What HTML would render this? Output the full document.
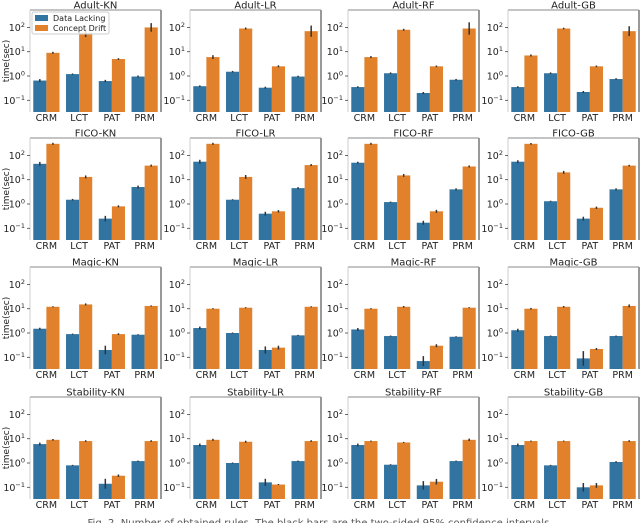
<!DOCTYPE html>
<html><head><meta charset="utf-8">
<style>
html,body{margin:0;padding:0;background:#fff;width:640px;height:523px;overflow:hidden}
svg{display:block}
text{font-family:"DejaVu Sans","Liberation Sans",sans-serif}
</style></head>
<body>
<svg id="chart" width="640" height="523" viewBox="0 0 640 523" xmlns="http://www.w3.org/2000/svg"></svg>
<script>
const categories = ["CRM","LCT","PAT","PRM"];
const panelTitles = ["Adult-KN","Adult-LR","Adult-RF","Adult-GB","FICO-KN","FICO-LR","FICO-RF","FICO-GB","Magic-KN","Magic-LR","Magic-RF","Magic-GB","Stability-KN","Stability-LR","Stability-RF","Stability-GB"];
const dataLacking = [
 [0.65,1.2,0.62,0.95],[0.38,1.5,0.33,0.95],[0.35,1.3,0.2,0.7],[0.35,1.3,0.22,0.75],
 [45,1.5,0.25,5],[55,1.5,0.4,4.5],[50,1.2,0.17,4],[55,1.3,0.25,4],
 [1.5,0.9,0.2,0.85],[1.6,1.0,0.2,0.8],[1.4,0.75,0.07,0.7],[1.3,0.75,0.09,0.75],
 [6,0.8,0.14,1.2],[5.5,1.0,0.16,1.2],[5.5,0.85,0.12,1.2],[5.5,0.8,0.1,1.1]];
const conceptDrift = [
 [9,60,5,100],[6,90,2.5,70],[6,80,2.5,90],[7,90,2.5,70],
 [300,13,0.8,38],[300,13,0.5,40],[300,15,0.5,35],[300,20,0.7,38],
 [12,15,0.9,13],[10,11,0.25,12],[10,12,0.3,11],[10,12,0.22,13],
 [9,8,0.3,8],[9,7.5,0.13,8],[8,7,0.17,9],[8,8,0.12,8]];
const errLacking = [
 [1.15,1.06,1.12,1.1],[1.08,1.08,1.1,1.08],[1.08,1.08,1.1,1.08],[1.08,1.08,1.1,1.08],
 [1.2,1.08,1.3,1.15],[1.2,1.05,1.2,1.1],[1.1,1.05,1.2,1.1],[1.15,1.05,1.2,1.1],
 [1.1,1.05,1.5,1.05],[1.15,1.05,1.4,1.05],[1.15,1.05,1.6,1.05],[1.15,1.05,2,1.05],
 [1.15,1.05,1.6,1.05],[1.15,1.05,1.4,1.05],[1.15,1.05,1.5,1.05],[1.15,1.05,1.5,1.08]];
const errDrift = [
 [1.1,1.5,1.08,1.5],[1.2,1.1,1.1,1.7],[1.1,1.1,1.08,1.8],[1.1,1.08,1.08,1.6],
 [1.1,1.15,1.1,1.1],[1.1,1.2,1.12,1.1],[1.1,1.15,1.15,1.1],[1.08,1.15,1.12,1.08],
 [1.05,1.1,1.08,1.05],[1.05,1.05,1.2,1.05],[1.05,1.08,1.15,1.05],[1.08,1.08,1.1,1.15],
 [1.08,1.08,1.12,1.08],[1.1,1.1,1.05,1.08],[1.05,1.05,1.3,1.12],[1.05,1.05,1.25,1.08]];
const tickExps = [2,1,0,-1];

const NS="http://www.w3.org/2000/svg";
const svg=document.getElementById('chart');
function mk(tag,attrs,parent){const e=document.createElementNS(NS,tag);for(const k in attrs)e.setAttribute(k,attrs[k]);(parent||svg).appendChild(e);return e;}
const colX=[30,190,348,508], rowY0=[76,204,333,463], decade=24.3, PW=131;
const BLUE="#3274a1", ORANGE="#e1812c";
panelTitles.forEach((title,p)=>{
  const r=Math.floor(p/4), c=p%4;
  const L=colX[c], y0=rowY0[r], top=y0-66, bot=y0+36;
  const yS=v=>y0-Math.log10(v)*decade;
  const g=mk('g',{});
  
  
  const t=mk('text',{x:L+PW/2,y:top-1.5,'text-anchor':'middle','font-size':'10',fill:'#222'},g);
  t.textContent=title;
  
  
  mk('line',{x1:L,y1:top,x2:L+PW,y2:top,stroke:'#888','stroke-width':1},g);
  mk('line',{x1:L+PW,y1:top,x2:L+PW,y2:bot,stroke:'#999','stroke-width':2},g);
  mk('line',{x1:L,y1:top,x2:L,y2:bot,stroke:'#ccc','stroke-width':1},g);
  tickExps.forEach(e=>{
    const y=yS(Math.pow(10,e));
    mk('line',{x1:L-3,y1:y,x2:L,y2:y,stroke:'#444','stroke-width':0.8},g);
    const tx=mk('text',{x:L-5,y:y+3.5,'text-anchor':'end','font-size':'9.5',fill:'#222'},g);
    tx.textContent='10';
    const sp=mk('tspan',{dy:'-4','font-size':'6.5'},tx);sp.textContent=(e<0?'\u2212':'')+Math.abs(e);
    
    
  });
  if(c===0){
    const yl=mk('text',{x:0,y:0,transform:`translate(9,${y0-15}) rotate(-90)`,'text-anchor':'middle','font-size':'9',fill:'#222'},g);
    yl.textContent='time(sec)';
    
    
  }
  const gw=PW/4, bw=gw*0.4;
  categories.forEach((cat,i)=>{
    const cx=L+gw*(i+0.5);
    [[dataLacking[p][i],errLacking[p][i],BLUE,cx-bw],[conceptDrift[p][i],errDrift[p][i],ORANGE,cx]].forEach((d,k)=>{
      const y=yS(d[0]);
      const b=mk('rect',{x:d[3],y:y,width:bw,height:bot-y,fill:d[2]},g);
      
      
      mk('line',{x1:d[3]+bw/2,x2:d[3]+bw/2,y1:yS(d[0]*d[1]),y2:yS(d[0]/d[1]),stroke:'#333','stroke-width':1.5},g);
    });
    const xl=mk('text',{x:cx,y:bot+9,'text-anchor':'middle','font-size':'9.5',fill:'#222'},g);
    xl.textContent=cat;
    
    
  });
  if(p===0){
    const lg=mk('g',{},g);
    
    
    mk('rect',{x:L+2,y:top+2,width:77,height:22,rx:2,fill:'#fff','fill-opacity':0.85,stroke:'#ccc'},lg);
    mk('rect',{x:L+5,y:top+5,width:13,height:6,fill:BLUE},lg);
    mk('rect',{x:L+5,y:top+15,width:13,height:6,fill:ORANGE},lg);
    const a=mk('text',{x:L+23,y:top+11,'font-size':'8',fill:'#222'},lg);a.textContent='Data Lacking';
    
    const b=mk('text',{x:L+23,y:top+21,'font-size':'8',fill:'#222'},lg);b.textContent='Concept Drift';
    
  }
});
const cap=mk('text',{x:320,y:526,'text-anchor':'middle','font-size':'10',fill:'#555','font-family':'Liberation Serif, serif'});
cap.textContent='Fig. 2.   Number of obtained rules. The black bars are the two-sided 95% confidence intervals.';


</script>
</body></html>
